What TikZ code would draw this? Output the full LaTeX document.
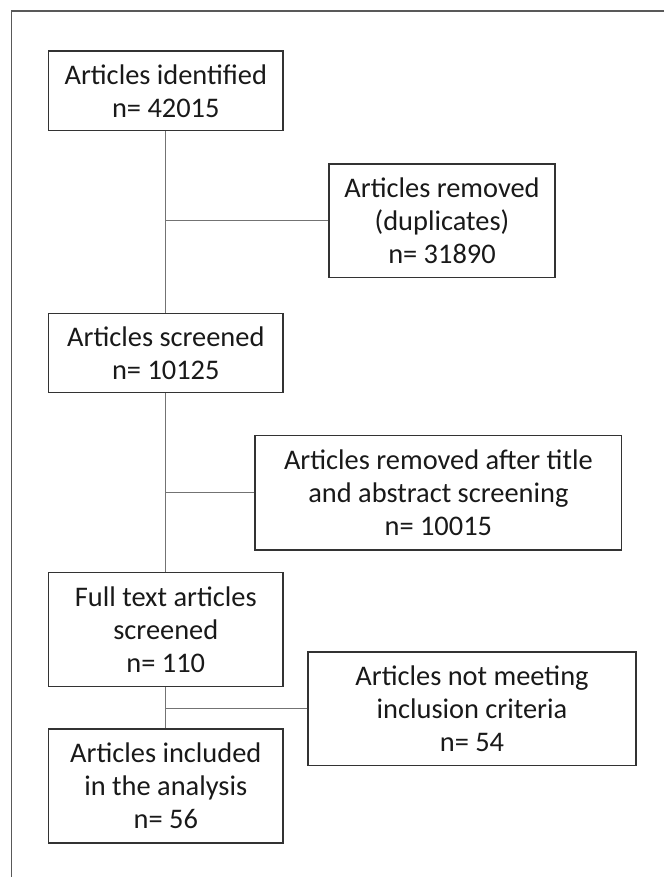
\documentclass[tikz,border=0pt]{standalone}
\usepackage{fontspec}
\setmainfont{Carlito}
\begin{document}
\begin{tikzpicture}[x=0.75pt,y=-0.75pt,
  box/.style={draw=black!80,line width=0.9pt,rectangle,inner sep=0pt,align=center,
    font=\fontsize{21.3pt}{24.8pt}\selectfont,text=black!90},
  conn/.style={draw=black!55,line width=0.8pt},
  frame/.style={draw=black!65,line width=0.9pt}]
\useasboundingbox (0,0) rectangle (664,877);
\draw[frame] (664,11) -- (11.5,11) -- (11.5,877);
\node[box,minimum width=175.7pt,minimum height=59.6pt] (b1) at (165.8,90.8) {Articles identified\\n= 42015};
\node[box,minimum width=169.5pt,minimum height=85.3pt] (b2) at (442,220.85) {Articles removed\\(duplicates)\\n= 31890};
\node[box,minimum width=175.7pt,minimum height=59.6pt] (b3) at (165.8,353) {Articles screened\\n= 10125};
\node[box,minimum width=275pt,minimum height=85.7pt] (b4) at (438.35,492.85) {Articles removed after title\\and abstract screening\\n= 10015};
\node[box,minimum width=175.7pt,minimum height=85.5pt] (b5) at (165.8,629.7) {Full text articles\\screened\\n= 110};
\node[box,minimum width=246pt,minimum height=85.3pt] (b6) at (472,708.85) {Articles not meeting\\inclusion criteria\\n= 54};
\node[box,minimum width=175.7pt,minimum height=85.5pt] (b7) at (165.8,786) {Articles included\\in the analysis\\n= 56};
\draw[conn] (b1.south) -- (b3.north);
\draw[conn] (b2.west) -- (b2.west -| b1.south);
\draw[conn] (b3.south) -- (b5.north);
\draw[conn] (b4.west) -- (b4.west -| b3.south);
\draw[conn] (b5.south) -- (b7.north);
\draw[conn] (b6.west) -- (b6.west -| b5.south);
\end{tikzpicture}
\end{document}
